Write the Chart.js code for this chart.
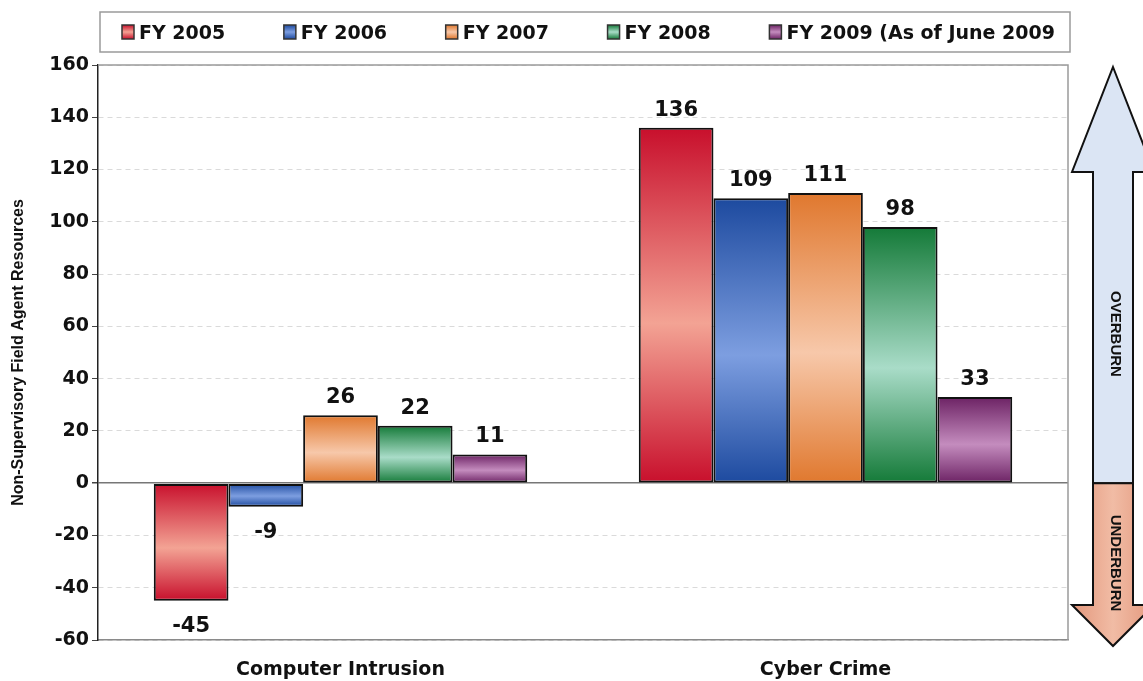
<!DOCTYPE html>
<html>
<head>
<meta charset="utf-8">
<script src="https://cdn.jsdelivr.net/npm/chart.js@4.4.1/dist/chart.umd.min.js"></script>
<style>
  html, body { margin: 0; padding: 0; background: #fff; }
  #wrap { width: 1143px; height: 681px; }
</style>
</head>
<body>
<div id="wrap"><canvas id="chart"></canvas></div>
<script>
// Datos
const categories = ['Computer Intrusion', 'Cyber Crime'];
const seriesLabels = ['FY 2005', 'FY 2006', 'FY 2007', 'FY 2008', 'FY 2009 (As of June 2009'];
const fy2005 = [-45, 136];
const fy2006 = [-9, 109];
const fy2007 = [26, 111];
const fy2008 = [22, 98];
const fy2009 = [11, 33];
const yMin = -60;
const yMax = 160;
const yStep = 20;

const seriesValues = [fy2005, fy2006, fy2007, fy2008, fy2009];

// [oscuro, claro] por serie
const palette = [
  ['#c80f2c', '#f3a394'],
  ['#1d4a9f', '#7d9ee0'],
  ['#e0782e', '#f7c8aa'],
  ['#147a38', '#a9dcc8'],
  ['#6c2264', '#c48cbe']
];

const FONT = '"DejaVu Sans", Verdana, sans-serif';

function barFill(i) {
  return ctx => {
    const [dark, light] = palette[i];
    if (ctx.type !== 'data') return light;
    const y = ctx.chart.scales.y;
    if (!y) return dark;
    const a = y.getPixelForValue(Math.max(ctx.raw, 0));
    const b = y.getPixelForValue(Math.min(ctx.raw, 0));
    if (!isFinite(a) || !isFinite(b) || a === b) return dark;
    const g = ctx.chart.ctx.createLinearGradient(0, a, 0, b);
    g.addColorStop(0, dark);
    g.addColorStop(0.55, light);
    g.addColorStop(1, dark);
    return g;
  };
}

const plotFrame = {
  id: 'plotFrame',
  beforeDatasetsDraw(chart) {
    const { ctx, chartArea: a } = chart;
    ctx.save();
    ctx.strokeStyle = '#9a9a9a';
    ctx.lineWidth = 1.5;
    ctx.beginPath();
    ctx.moveTo(a.left, a.top);
    ctx.lineTo(a.right, a.top);
    ctx.lineTo(a.right, a.bottom);
    ctx.stroke();
    ctx.restore();
  }
};

const valueLabels = {
  id: 'valueLabels',
  afterDatasetsDraw(chart) {
    const c = chart.ctx;
    c.save();
    c.font = 'bold 21px ' + FONT;
    c.fillStyle = '#111';
    c.textAlign = 'center';
    c.textBaseline = 'alphabetic';
    chart.data.datasets.forEach((ds, i) => {
      chart.getDatasetMeta(i).data.forEach((bar, j) => {
        const v = ds.data[j];
        if (v >= 0) c.fillText(String(v), bar.x, bar.y - 12);
        else c.fillText(String(v), bar.x, bar.y + 31);
      });
    });
    c.restore();
  }
};

const boxLegend = {
  id: 'boxLegend',
  afterDraw(chart) {
    const c = chart.ctx;
    c.save();
    c.strokeStyle = '#9a9a9a';
    c.lineWidth = 1.5;
    c.strokeRect(100, 12, 970, 40);
    c.font = 'bold 19px ' + FONT;
    c.textBaseline = 'alphabetic';
    c.fillStyle = '#111';
    const sw = 12, swGap = 5;
    const widths = seriesLabels.map(t => sw + swGap + c.measureText(t).width);
    const total = 933;
    const gap = (total - widths.reduce((s, w) => s + w, 0)) / (widths.length - 1);
    let x = 122;
    seriesLabels.forEach((t, i) => {
      const [dark, light] = palette[i];
      const g = c.createLinearGradient(0, 25, 0, 39);
      g.addColorStop(0, dark);
      g.addColorStop(0.5, light);
      g.addColorStop(1, dark);
      c.fillStyle = g;
      c.fillRect(x, 25, sw, 14);
      c.strokeStyle = '#333';
      c.lineWidth = 1.5;
      c.strokeRect(x, 25, sw, 14);
      c.fillStyle = '#111';
      c.fillText(t, x + sw + swGap, 39);
      x += widths[i] + gap;
    });
    c.restore();
  }
};

const burnArrow = {
  id: 'burnArrow',
  afterDraw(chart) {
    const c = chart.ctx;
    const split = chart.scales.y.getPixelForValue(0);
    const cx = 1113, sw = 20, hw = 41;
    const topTip = 67, topBase = 172, botBase = 605, botTip = 646;
    c.save();
    c.lineWidth = 2;
    c.strokeStyle = '#111';
    c.lineJoin = 'miter';

    c.beginPath();
    c.moveTo(cx, topTip);
    c.lineTo(cx + hw, topBase);
    c.lineTo(cx + sw, topBase);
    c.lineTo(cx + sw, split);
    c.lineTo(cx - sw, split);
    c.lineTo(cx - sw, topBase);
    c.lineTo(cx - hw, topBase);
    c.closePath();
    c.fillStyle = '#dbe5f4';
    c.fill();
    c.stroke();

    c.beginPath();
    c.moveTo(cx - sw, split);
    c.lineTo(cx + sw, split);
    c.lineTo(cx + sw, botBase);
    c.lineTo(cx + hw, botBase);
    c.lineTo(cx, botTip);
    c.lineTo(cx - hw, botBase);
    c.lineTo(cx - sw, botBase);
    c.closePath();
    const g = c.createLinearGradient(cx - hw, 0, cx + hw, 0);
    g.addColorStop(0, '#e3977c');
    g.addColorStop(0.5, '#f1bca5');
    g.addColorStop(1, '#e3977c');
    c.fillStyle = g;
    c.fill();
    c.stroke();

    c.fillStyle = '#111';
    c.font = 'bold 15px "Liberation Sans", Arial, sans-serif';
    c.textAlign = 'center';
    c.textBaseline = 'middle';
    [['OVERBURN', 334], ['UNDERBURN', 563]].forEach(([t, y]) => {
      c.save();
      c.translate(cx + 2, y);
      c.rotate(Math.PI / 2);
      c.fillText(t, 0, 0);
      c.restore();
    });
    c.restore();
  }
};

new Chart(document.getElementById('chart'), {
  type: 'bar',
  data: {
    labels: categories,
    datasets: seriesLabels.map((label, i) => ({
      label: label,
      data: seriesValues[i],
      backgroundColor: barFill(i),
      borderColor: '#111',
      borderWidth: 2,
      borderSkipped: false,
      categoryPercentage: 0.77,
      barPercentage: 1.0
    }))
  },
  options: {
    responsive: true,
    maintainAspectRatio: false,
    animation: false,
    layout: { padding: { top: 65, right: 75, left: 0, bottom: 0 } },
    plugins: {
      legend: { display: false },
      tooltip: { enabled: false }
    },
    scales: {
      x: {
        grid: { display: false, drawTicks: false },
        border: { color: '#8a8a8a', width: 1.5 },
        ticks: {
          color: '#111',
          padding: 19,
          font: { family: FONT, weight: 'bold', size: 19 }
        },
        afterFit: s => { s.height = 41; }
      },
      y: {
        min: yMin,
        max: yMax,
        ticks: {
          stepSize: yStep,
          color: '#111',
          padding: 3,
          font: { family: FONT, weight: 'bold', size: 19 }
        },
        grid: {
          color: ctx => (ctx.tick && ctx.tick.value === 0) ? '#777' : '#dadada',
          lineWidth: ctx => (ctx.tick && ctx.tick.value === 0) ? 1.5 : 1,
          tickColor: '#444',
          tickLength: 6
        },
        border: {
          color: '#222',
          width: 1.5,
          dash: ctx => (ctx.tick && ctx.tick.value !== 0) ? [5, 4] : []
        },
        title: {
          display: true,
          text: 'Non-Supervisory Field Agent Resources',
          color: '#111',
          padding: { top: 9, bottom: 0 },
          font: { family: '"Liberation Sans", Arial, sans-serif', weight: 'bold', size: 16 }
        },
        afterFit: s => { s.width = 98; }
      }
    }
  },
  plugins: [plotFrame, valueLabels, boxLegend, burnArrow]
});
</script>
</body>
</html>
